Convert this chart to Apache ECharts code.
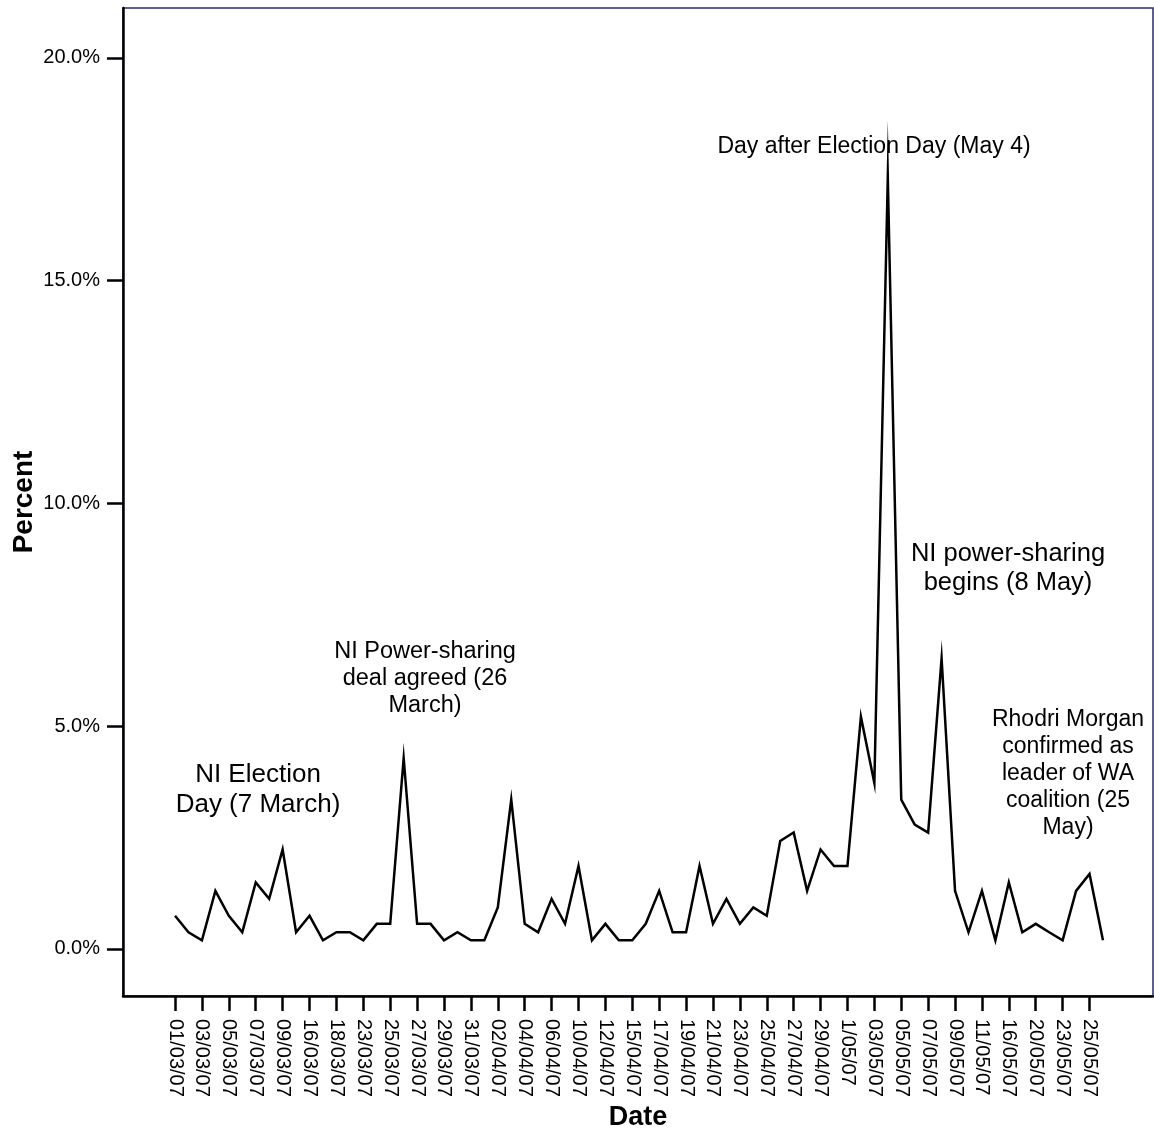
<!DOCTYPE html>
<html><head><meta charset="utf-8">
<script src="https://cdn.jsdelivr.net/npm/echarts@6/dist/echarts.min.js"></script>
<style>html,body{margin:0;padding:0;background:#fff}#c{width:1154px;height:1133px}</style>
</head><body><div id="c"></div>
<script>
const dates = [
 '01/03/07','02/03/07','03/03/07','04/03/07','05/03/07','06/03/07','07/03/07','08/03/07','09/03/07','12/03/07',
 '16/03/07','17/03/07','18/03/07','21/03/07','23/03/07','24/03/07','25/03/07','26/03/07','27/03/07','28/03/07',
 '29/03/07','30/03/07','31/03/07','01/04/07','02/04/07','03/04/07','04/04/07','05/04/07','06/04/07','09/04/07',
 '10/04/07','11/04/07','12/04/07','14/04/07','15/04/07','16/04/07','17/04/07','18/04/07','19/04/07','20/04/07',
 '21/04/07','22/04/07','23/04/07','24/04/07','25/04/07','26/04/07','27/04/07','28/04/07','29/04/07','30/04/07',
 '1/05/07','02/05/07','03/05/07','04/05/07','05/05/07','06/05/07','07/05/07','08/05/07','09/05/07','10/05/07',
 '11/05/07','14/05/07','16/05/07','18/05/07','20/05/07','22/05/07','23/05/07','24/05/07','25/05/07','26/05/07'
];
const percent = [
 0.74,0.37,0.19,1.30,0.74,0.37,1.49,1.12,2.23,0.37,
 0.74,0.19,0.37,0.37,0.19,0.56,0.56,4.28,0.56,0.56,
 0.19,0.37,0.19,0.19,0.93,3.35,0.56,0.37,1.12,0.56,
 1.86,0.19,0.56,0.19,0.19,0.56,1.30,0.37,0.37,1.86,
 0.56,1.12,0.56,0.93,0.74,2.42,2.61,1.30,2.23,1.86,
 1.86,5.21,3.72,17.32,3.35,2.79,2.61,6.52,1.30,0.37,
 1.30,0.19,1.49,0.37,0.56,0.37,0.19,1.30,1.68,0.19
];
const labeledIdx = [];
for (let i = 0; i < dates.length - 1; i += 2) labeledIdx.push(i);
const yTicks = [0, 5, 10, 15, 20];
const notes = [
 'NI Election\nDay (7 March)',
 'NI Power-sharing\ndeal agreed (26\nMarch)',
 'Day after Election Day (May 4)',
 'NI power-sharing\nbegins (8 May)',
 'Rhodri Morgan\nconfirmed as\nleader of WA\ncoalition (25\nMay)'
];

const FF = "'Liberation Sans', Arial, sans-serif";
const chart = echarts.init(document.getElementById('c'));
function note(text, x, y, size, lh) {
  return { type: 'text', x: x, y: y, z: 100,
    style: { text: text, fill: '#000', fontSize: size, fontFamily: FF,
      align: 'center', verticalAlign: 'middle', lineHeight: lh } };
}
chart.setOption({
  animation: false,
  backgroundColor: '#fff',
  grid: { left: 123, top: 8, right: 1, bottom: 137, show: true, containLabel: false,
    outerBoundsMode: 'none',
    borderColor: '#2a2a6e', borderWidth: 1.5, backgroundColor: '#fff' },
  xAxis: {
    type: 'value', min: -3.87, max: 72.72,
    name: 'Date', nameLocation: 'middle', nameGap: 108, nameMoveOverlap: false,
    nameTextStyle: { fontSize: 27, fontWeight: 'bold', fontFamily: FF, color: '#000' },
    axisLine: { show: true, onZero: false, lineStyle: { color: '#000', width: 2.5 } },
    axisTick: { show: true, inside: false, customValues: labeledIdx, length: 15, lineStyle: { color: '#000', width: 2.5 } },
    axisLabel: { customValues: labeledIdx, rotate: -90, margin: 23, fontSize: 20, fontFamily: FF, color: '#000',
      formatter: v => dates[Math.round(v)] },
    splitLine: { show: false }
  },
  yAxis: {
    type: 'value', min: -1.06, max: 21.12,
    name: 'Percent', nameLocation: 'middle', nameGap: 85, nameRotate: 90, nameMoveOverlap: false,
    nameTextStyle: { fontSize: 28, fontWeight: 'bold', fontFamily: FF, color: '#000' },
    axisLine: { show: true, onZero: false, lineStyle: { color: '#000', width: 2.5 } },
    axisTick: { show: true, inside: false, customValues: yTicks, length: 16, lineStyle: { color: '#000', width: 2.5 } },
    axisLabel: { customValues: yTicks, margin: 23, fontSize: 20, fontFamily: FF, color: '#000',
      formatter: v => v.toFixed(1) + '%' },
    splitLine: { show: false }
  },
  series: [{
    type: 'line', symbol: 'none',
    data: percent.map((v, i) => [i, v]),
    lineStyle: { color: '#000', width: 2.5, join: 'miter', miterLimit: 100 }
  }],
  graphic: [
    note(notes[0], 258, 790, 26, 30),
    note(notes[1], 425, 679, 23.5, 27),
    note(notes[2], 874, 147, 23, 27),
    note(notes[3], 1008, 568, 25.5, 29),
    note(notes[4], 1068, 774, 23, 27)
  ]
});
</script>
</body></html>
